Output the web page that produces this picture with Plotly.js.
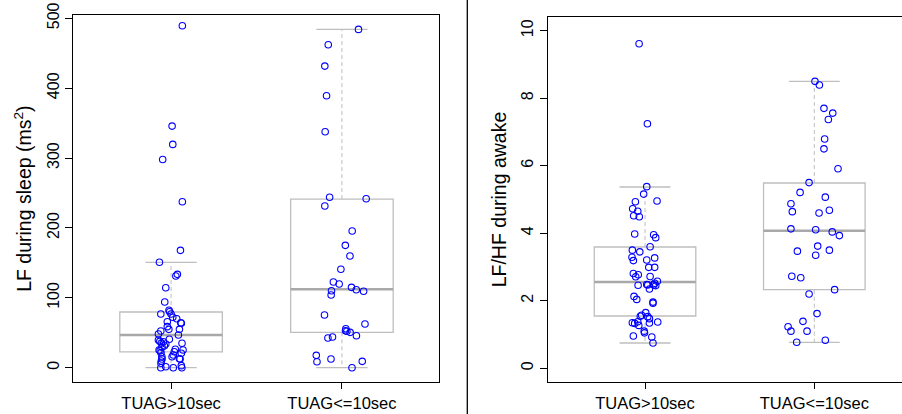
<!DOCTYPE html>
<html>
<head>
<meta charset="utf-8">
<script src="https://cdn.plot.ly/plotly-3.0.1.min.js"></script>
<style>html,body{margin:0;padding:0;background:#fff;}#chart{width:902px;height:414px;}</style>
</head>
<body>
<div id="chart"></div>
<script>
// ---- Categories / tick labels ----
const groupLabels = ["TUAG>10sec", "TUAG<=10sec"];
const groupPos = [1, 2];

// ---- Left panel: LF during sleep (ms^2) ----
const lfSleepGt10 = [489.3, 345.7, 319.5, 298.0, 237.5, 167.9, 150.8, 131.2, 133.6, 114.4, 94.0,
  82.1, 80.1, 76.8, 76.8, 72.1, 70.1, 65.8, 63.5, 64.4, 58.7, 54.9, 54.9, 52.5, 48.2, 46.8, 40.6,
  39.6, 37.7, 35.3, 37.2, 33.9, 31.5, 29.2, 25.3, 24.3, 34.9, 26.3, 22.9, 25.3, 20.6, 18.2, 15.7,
  21.5, 15.7, 12.4, 9.6, 12.4, 12.9, 6.3, 0.0, 1.4, 0.0, 2.9, 0.0];
const lfSleepGt10Jitter = [0.066, 0.006, 0.010, -0.049, 0.066, 0.055, -0.068, 0.028, 0.037, -0.031, -0.037,
  -0.012, -0.008, 0.000, -0.060, 0.010, 0.033, -0.022, 0.060, 0.057, -0.022, -0.013, 0.049, -0.060, -0.074, 0.043, -0.010,
  -0.074, -0.066, -0.057, -0.045, -0.031, -0.039, -0.053, -0.070, -0.064, 0.064, 0.025, 0.019, 0.070, 0.060, 0.013, 0.006,
  -0.059, -0.054, -0.053, -0.057, 0.053, 0.049, -0.059, -0.060, -0.031, 0.013, 0.060, 0.063];
const lfSleepLe10 = [484.1, 462.1, 431.6, 389.1, 337.6, 243.8, 241.8, 231.3, 195.6, 175.1, 159.8,
  140.8, 122.6, 119.7, 115.0, 111.6, 109.3, 110.2, 104.0, 75.4, 62.5, 55.8, 52.9, 52.1, 50.6, 45.8,
  43.9, 42.5, 17.7, 8.6, 12.4, 9.1, 0.0];
const lfSleepLe10Jitter = [0.097, -0.080, -0.100, -0.090, -0.098, -0.072, 0.142, -0.100, 0.060, 0.020, 0.047,
  -0.006, -0.050, -0.016, 0.056, 0.084, 0.127, -0.061, -0.063, -0.102, 0.135, 0.023, 0.021, 0.029, 0.048, 0.085,
  -0.055, -0.082, -0.150, -0.146, -0.064, 0.119, 0.059];
// box statistics [TUAG>10sec, TUAG<=10sec]
const lfSleepLower  = [0, 0];
const lfSleepQ1     = [22.5, 50.6];
const lfSleepMedian = [46.8, 112.2];
const lfSleepQ3     = [79.7, 241.3];
const lfSleepUpper  = [150.8, 484.1];
const lfSleepTicks = [0, 100, 200, 300, 400, 500];

// ---- Right panel: LF/HF during awake ----
const lfhfAwakeGt10 = [9.615, 7.245, 5.38, 5.16, 4.956, 4.935, 4.728, 4.65, 4.52, 4.49, 3.978, 3.958,
  3.87, 3.60, 3.50, 3.45, 3.29, 3.19, 3.27, 3.21, 2.99, 2.99, 2.81, 2.77, 2.71, 2.72, 2.58, 2.52,
  2.45, 2.47, 2.48, 2.47, 2.46, 2.35, 2.13, 2.04, 1.96, 1.93, 1.65, 1.57, 1.54, 1.53, 1.47, 1.35,
  1.33, 1.38, 1.27, 1.34, 1.37, 1.10, 1.05, 0.957, 0.927, 0.75];
const lfhfAwakeGt10Jitter = [-0.035, 0.014, 0.010, -0.008, 0.071, -0.057, -0.073, -0.043, -0.067, -0.034, -0.061, 0.051,
  0.063, 0.030, -0.075, -0.031, -0.077, -0.069, 0.057, 0.010, 0.022, 0.057, -0.069, -0.040, -0.055, 0.030, 0.073, 0.057,
  0.063, 0.051, 0.010, 0.016, -0.041, 0.026, -0.065, -0.049, 0.047, 0.047, 0.004, -0.020, -0.028, 0.016, 0.026, -0.075,
  -0.061, -0.043, -0.037, 0.026, 0.075, -0.005, -0.003, -0.069, 0.040, 0.047];
const lfhfAwakeLe10 = [8.50, 8.39, 7.70, 7.56, 7.37, 6.79, 6.50, 5.91, 5.50, 5.21, 5.07, 4.875, 4.64,
  4.60, 4.68, 4.13, 4.105, 4.04, 3.93, 3.62, 3.47, 3.50, 3.35, 2.725, 2.68, 2.33, 2.20, 1.62, 1.39,
  1.23, 1.10, 1.10, 0.77, 0.83];
const lfhfAwakeLe10Jitter = [0.004, 0.030, 0.057, 0.109, 0.083, 0.061, 0.057, 0.140, -0.031, -0.084, 0.065, -0.138, -0.130,
  0.028, 0.089, -0.138, 0.008, 0.106, 0.148, 0.020, -0.100, 0.089, 0.008, -0.133, -0.080, 0.120, -0.031, 0.016, -0.067,
  -0.155, -0.138, -0.043, -0.104, 0.065];
const lfhfAwakeLower  = [0.749, 0.77];
const lfhfAwakeQ1     = [1.549, 2.328];
const lfhfAwakeMedian = [2.556, 4.076];
const lfhfAwakeQ3     = [3.593, 5.489];
const lfhfAwakeUpper  = [5.37, 8.50];
const lfhfAwakeTicks = [0, 2, 4, 6, 8, 10];

// ---- styles ----
const BOX_W = 0.6, CAP_W = 0.3;
const GREY = "#bebebe", MED_GREY = "#a8a8a8", PT = "#0000ff";
const FONT = "Liberation Sans, Arial, Helvetica, sans-serif";

function panelTraces(xa, ya, q1, med, q3, lo, hi, groups, jitters) {
  const tr = [];
  tr.push({
    type: "box", xaxis: xa, yaxis: ya, x: groupPos, q1: q1, median: med, q3: q3,
    lowerfence: q1, upperfence: q3, width: BOX_W, whiskerwidth: 0,
    line: {color: GREY, width: 1.3}, fillcolor: "rgba(255,255,255,0)",
    boxpoints: false, hoverinfo: "skip", showlegend: false
  });
  const wx = [], wy = [], cx = [], cy = [], mx = [], my = [];
  groupPos.forEach((g, i) => {
    wx.push(g, g, null, g, g, null); wy.push(q3[i], hi[i], null, q1[i], lo[i], null);
    cx.push(g - CAP_W / 2, g + CAP_W / 2, null, g - CAP_W / 2, g + CAP_W / 2, null);
    cy.push(hi[i], hi[i], null, lo[i], lo[i], null);
    mx.push(g - BOX_W / 2, g + BOX_W / 2, null); my.push(med[i], med[i], null);
  });
  tr.push({type: "scatter", mode: "lines", xaxis: xa, yaxis: ya, x: wx, y: wy,
    line: {color: GREY, width: 1, dash: "4px,3px"}, hoverinfo: "skip", showlegend: false});
  tr.push({type: "scatter", mode: "lines", xaxis: xa, yaxis: ya, x: cx, y: cy,
    line: {color: GREY, width: 1.3}, hoverinfo: "skip", showlegend: false});
  tr.push({type: "scatter", mode: "lines", xaxis: xa, yaxis: ya, x: mx, y: my,
    line: {color: MED_GREY, width: 2.6}, hoverinfo: "skip", showlegend: false});
  groups.forEach((vals, i) => {
    tr.push({type: "scatter", mode: "markers", xaxis: xa, yaxis: ya,
      x: vals.map((v, k) => groupPos[i] + jitters[i][k]), y: vals,
      marker: {symbol: "circle-open", size: 6.5, color: PT, line: {width: 1.1, color: PT}},
      showlegend: false});
  });
  return tr;
}

const data = [].concat(
  panelTraces("x", "y", lfSleepQ1, lfSleepMedian, lfSleepQ3, lfSleepLower, lfSleepUpper,
    [lfSleepGt10, lfSleepLe10], [lfSleepGt10Jitter, lfSleepLe10Jitter]),
  panelTraces("x2", "y2", lfhfAwakeQ1, lfhfAwakeMedian, lfhfAwakeQ3, lfhfAwakeLower, lfhfAwakeUpper,
    [lfhfAwakeGt10, lfhfAwakeLe10], [lfhfAwakeGt10Jitter, lfhfAwakeLe10Jitter])
);

const W = 902, H = 414;
const xCommon = {
  tickvals: groupPos, ticktext: groupLabels, ticks: "outside", ticklen: 6, tickcolor: "#000",
  showline: true, linecolor: "#000", linewidth: 1, showgrid: false, zeroline: false,
  tickfont: {family: FONT, size: 16.5, color: "#000"}, fixedrange: true
};
const yCommon = {
  ticks: "outside", ticklen: 7, tickcolor: "#000", tickangle: -90,
  showline: true, linecolor: "#000", linewidth: 1, showgrid: false, zeroline: false,
  tickfont: {family: FONT, size: 16, color: "#000"}, fixedrange: true
};

const layout = {
  width: W, height: H, margin: {l: 0, r: 0, t: 0, b: 0},
  paper_bgcolor: "#fff", plot_bgcolor: "#fff", showlegend: false,
  font: {family: FONT, color: "#000"},
  xaxis: Object.assign({}, xCommon, {domain: [73 / W, 439.3 / W], range: [0.426, 2.57], mirror: true, anchor: "y"}),
  yaxis: Object.assign({}, yCommon, {domain: [31.7 / H, 399 / H], range: [-20.9, 504.7], tickvals: lfSleepTicks,
    mirror: true, anchor: "x",
    title: {text: "LF during sleep (ms<sup>2</sup>)", font: {family: FONT, size: 19.5, color: "#000"}, standoff: 7}}),
  xaxis2: Object.assign({}, xCommon, {domain: [547.7 / W, 1], range: [0.425, 2.518], mirror: true, anchor: "y2"}),
  yaxis2: Object.assign({}, yCommon, {domain: [31.7 / H, 397.3 / H], range: [-0.415, 10.415], tickvals: lfhfAwakeTicks,
    mirror: false, anchor: "x2",
    title: {text: "LF/HF during awake", font: {family: FONT, size: 19.5, color: "#000"}, standoff: 7}}),
  shapes: [{type: "line", xref: "paper", yref: "paper", x0: 467.3 / W, x1: 467.3 / W, y0: 0, y1: 1,
    line: {color: "#000", width: 1.3}}]
};

Plotly.newPlot("chart", data, layout, {displayModeBar: false, staticPlot: true});
</script>
</body>
</html>
